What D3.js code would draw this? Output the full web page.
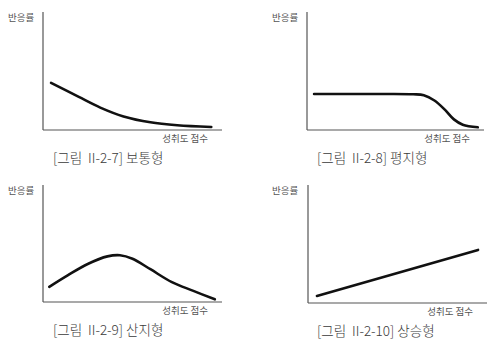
<!DOCTYPE html>
<html>
<head>
<meta charset="utf-8">
<script src="https://cdn.jsdelivr.net/npm/d3@7"></script>
<style>
  body { margin: 0; background: #fff; }
  text { font-family: "Noto Sans CJK KR", "Noto Sans", sans-serif; }
</style>
</head>
<body>
<svg id="chart" width="490" height="360"></svg>
<script>
// curve data, x = 성취도 점수 (0-100), y = 반응률 (0-100)
var normalCurve = [[4.5, 40], [20, 28], [32, 19], [45, 11.5], [60, 6.5], [75, 4], [94, 2.5]];
var flatCurve = [[4, 30.5], [40, 30.5], [60, 30.3], [66, 29.5], [72, 25], [78, 17], [83, 9], [88, 4.5], [96.5, 2.3]];
var mountainCurve = [[3.5, 13], [14, 23], [25, 32.5], [36, 39], [43, 40], [50, 37], [60, 28], [72, 17], [84, 9.5], [96, 2.3]];
var risingCurve = [[5, 6], [95, 45]];

var captions = ["[그림  II-2-7] 보통형", "[그림  II-2-8] 평지형", "[그림  II-2-9] 산지형", "[그림  II-2-10] 상승형"];
var yLabel = "반응률";
var xLabel = "성취도 점수";

var panels = [
    { data: normalCurve, x0: 43, x1: 222, top: 12, bottom: 130, labelX: 8, capX: 53 },
    { data: flatCurve, x0: 307, x1: 484, top: 12, bottom: 130, labelX: 272, capX: 317 },
    { data: mountainCurve, x0: 43, x1: 222, top: 185, bottom: 302, labelX: 8, capX: 53 },
    { data: risingCurve, x0: 308, x1: 487, top: 185, bottom: 303, labelX: 272, capX: 317 }
];

var svg = d3.select("#chart");

panels.forEach(function (p, i) {
    var x = d3.scaleLinear().domain([0, 100]).range([p.x0, p.x1]);
    var y = d3.scaleLinear().domain([0, 100]).range([p.bottom, p.top]);

    var g = svg.append("g");

    // axes
    g.append("line")
        .attr("x1", x(0)).attr("y1", y(100))
        .attr("x2", x(0)).attr("y2", y(0))
        .attr("stroke", "#555").attr("stroke-width", 1.2);
    g.append("line")
        .attr("x1", x(0)).attr("y1", y(0))
        .attr("x2", x(100)).attr("y2", y(0))
        .attr("stroke", "#555").attr("stroke-width", 1.2);

    var line = d3.line()
        .x(function (d) { return x(d[0]); })
        .y(function (d) { return y(d[1]); })
        .curve(d3.curveCatmullRom.alpha(0.5));

    g.append("path")
        .datum(p.data)
        .attr("fill", "none")
        .attr("stroke", "#111")
        .attr("stroke-width", 2.6)
        .attr("stroke-linecap", "round")
        .attr("d", line);

    g.append("text")
        .attr("x", p.labelX)
        .attr("y", p.top + 9)
        .attr("font-size", 9.5)
        .attr("fill", "#555")
        .text(yLabel);

    g.append("text")
        .attr("x", x(100) - 14)
        .attr("y", p.bottom + 12)
        .attr("text-anchor", "end")
        .attr("font-size", 9.5)
        .attr("fill", "#555")
        .text(xLabel);

    g.append("text")
        .attr("x", p.capX)
        .attr("y", p.bottom + 33)
        .attr("font-size", 13.5)
        .attr("font-weight", 300)
        .attr("fill", "#3a3a3a")
        .style("white-space", "pre")
        .text(captions[i]);
});
</script>
</body>
</html>
